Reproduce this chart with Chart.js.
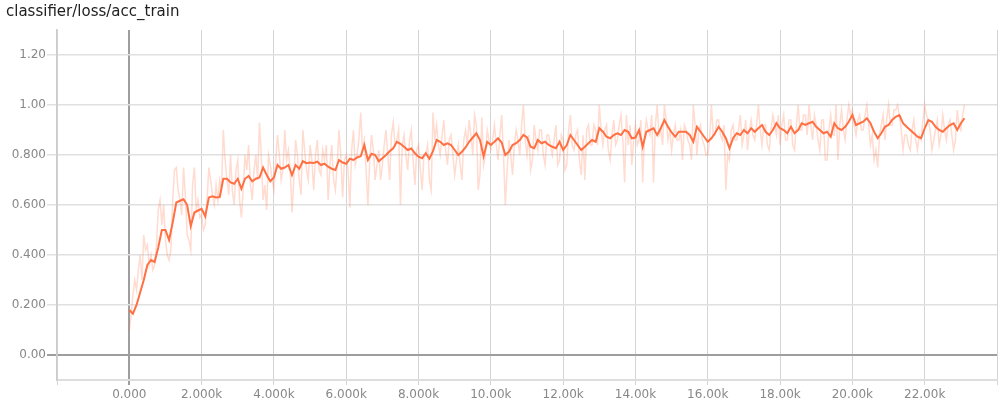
<!DOCTYPE html>
<html>
<head>
<meta charset="utf-8">
<script src="https://cdn.jsdelivr.net/npm/chart.js@4.4.0/dist/chart.umd.min.js"></script>
<style>
  body { margin: 0; background: #fff; }
  #wrap { position: relative; width: 1008px; height: 408px; }
  #title { position: absolute; left: 6px; top: 2px; font: 15px "DejaVu Sans", sans-serif; color: #212121; }
</style>
</head>
<body>
<div id="wrap">
  <div id="title">classifier/loss/acc_train</div>
  <canvas id="acc" width="1008" height="408"></canvas>
</div>
<script>
// tick positions + labels as tensorboard prints them
const xTicks = [-2000, 0, 2000, 4000, 6000, 8000, 10000, 12000, 14000, 16000, 18000, 20000, 22000, 24000];
const xTickLabels = ['', '0.000', '2.000k', '4.000k', '6.000k', '8.000k', '10.00k', '12.00k', '14.00k', '16.00k', '18.00k', '20.00k', '22.00k', ''];
const yTicks = [0, 0.2, 0.4, 0.6, 0.8, 1.0, 1.2];
const yTickLabels = ['0.00', '0.200', '0.400', '0.600', '0.800', '1.00', '1.20'];

// smoothed: one value every 100 steps, 0 .. 23100
const smoothed = [
  0.18, 0.165, 0.2, 0.25, 0.3, 0.36, 0.38, 0.372, 0.43, 0.5,
  0.5, 0.46, 0.53, 0.61, 0.617, 0.623, 0.6, 0.516, 0.57, 0.578,
  0.585, 0.555, 0.63, 0.635, 0.63, 0.632, 0.705, 0.705, 0.69, 0.685,
  0.705, 0.665, 0.705, 0.716, 0.695, 0.705, 0.71, 0.75, 0.72, 0.695,
  0.71, 0.76, 0.745, 0.75, 0.76, 0.72, 0.76, 0.745, 0.775, 0.767,
  0.77, 0.768, 0.773, 0.76, 0.765, 0.753, 0.745, 0.74, 0.78, 0.77,
  0.765, 0.785, 0.78, 0.79, 0.795, 0.84, 0.78, 0.805, 0.8, 0.775,
  0.787, 0.8, 0.815, 0.827, 0.853, 0.845, 0.833, 0.82, 0.826, 0.807,
  0.793, 0.787, 0.807, 0.785, 0.815, 0.86, 0.853, 0.84, 0.847, 0.84,
  0.82, 0.8, 0.813, 0.83, 0.853, 0.87, 0.887, 0.86, 0.795, 0.853,
  0.84, 0.853, 0.867, 0.85, 0.8, 0.813, 0.84, 0.847, 0.86, 0.88,
  0.87, 0.833, 0.827, 0.86, 0.847, 0.853, 0.84, 0.833, 0.827, 0.853,
  0.82, 0.84, 0.88, 0.86, 0.84, 0.82, 0.833, 0.847, 0.86, 0.853,
  0.907, 0.893, 0.873, 0.867, 0.88, 0.887, 0.88, 0.9, 0.893, 0.867,
  0.87, 0.9, 0.833, 0.893, 0.9, 0.907, 0.88, 0.907, 0.94, 0.913,
  0.89, 0.873, 0.893, 0.893, 0.893, 0.88, 0.853, 0.913, 0.893, 0.873,
  0.853, 0.867, 0.887, 0.913, 0.893, 0.867, 0.827, 0.867, 0.887, 0.88,
  0.9, 0.887, 0.907, 0.893, 0.907, 0.92, 0.893, 0.88, 0.9, 0.927,
  0.907, 0.9, 0.887, 0.913, 0.887, 0.9, 0.927, 0.92, 0.927, 0.933,
  0.913, 0.9, 0.887, 0.893, 0.873, 0.927, 0.907, 0.9, 0.913, 0.933,
  0.96, 0.92, 0.927, 0.933, 0.947, 0.927, 0.893, 0.867, 0.887, 0.913,
  0.92, 0.94, 0.953, 0.96, 0.927, 0.913, 0.9, 0.887, 0.873, 0.867,
  0.907, 0.94, 0.933, 0.913, 0.9, 0.893, 0.907, 0.92, 0.927, 0.9,
  0.927, 0.947
];

// raw: one value every 50 steps, 0 .. 23100
const raw = [
  0.10, 0.16, 0.24, 0.30, 0.26, 0.34, 0.40, 0.30, 0.48, 0.42, 0.44, 0.36, 0.40, 0.34, 0.36, 0.44, 0.58, 0.62, 0.52, 0.60,
  0.46, 0.40, 0.38, 0.42, 0.62, 0.74, 0.75, 0.66, 0.62, 0.56, 0.75, 0.64, 0.48, 0.46, 0.42, 0.68, 0.75, 0.58, 0.62, 0.55,
  0.56, 0.50, 0.52, 0.62, 0.75, 0.70, 0.64, 0.60, 0.68, 0.62, 0.70, 0.66, 0.90, 0.78, 0.70, 0.64, 0.80, 0.66, 0.60, 0.74,
  0.78, 0.62, 0.55, 0.66, 0.80, 0.74, 0.84, 0.68, 0.62, 0.74, 0.80, 0.70, 0.93, 0.80, 0.62, 0.68, 0.58, 0.80, 0.76, 0.70,
  0.66, 0.78, 0.88, 0.80, 0.70, 0.74, 0.90, 0.78, 0.82, 0.74, 0.57, 0.70, 0.86, 0.80, 0.70, 0.64, 0.90, 0.82, 0.74, 0.70,
  0.84, 0.78, 0.66, 0.80, 0.86, 0.74, 0.72, 0.82, 0.78, 0.84, 0.62, 0.76, 0.84, 0.70, 0.66, 0.76, 0.90, 0.80, 0.63, 0.78,
  0.80, 0.74, 0.59, 0.82, 0.90, 0.76, 0.80, 0.86, 0.97, 0.82, 0.86, 0.74, 0.60, 0.78, 0.88, 0.82, 0.70, 0.76, 0.82, 0.70,
  0.76, 0.84, 0.90, 0.80, 0.70, 0.88, 0.93, 0.84, 0.86, 0.90, 0.60, 0.84, 0.88, 0.80, 0.74, 0.86, 0.90, 0.78, 0.68, 0.82,
  0.84, 0.74, 0.66, 0.80, 0.80, 0.84, 0.70, 0.66, 0.97, 0.86, 0.92, 0.84, 0.80, 0.88, 0.94, 0.82, 0.76, 0.86, 0.88, 0.80,
  0.72, 0.78, 0.84, 0.76, 0.70, 0.86, 0.90, 0.84, 0.94, 0.88, 0.80, 0.96, 0.92, 0.66, 0.72, 0.95, 0.76, 0.80, 0.90, 0.86,
  0.82, 0.86, 0.92, 0.84, 0.78, 0.88, 0.96, 0.80, 0.60, 0.74, 0.86, 0.80, 0.72, 0.84, 0.90, 0.86, 0.80, 0.92, 1.00, 0.86,
  0.80, 0.88, 0.74, 0.78, 0.92, 0.86, 0.82, 0.90, 0.90, 0.80, 0.76, 0.88, 0.88, 0.84, 0.80, 0.86, 0.92, 0.76, 0.78, 0.88,
  0.86, 0.74, 0.76, 0.90, 0.96, 0.84, 0.82, 0.88, 0.90, 0.78, 0.72, 0.88, 0.70, 0.90, 0.92, 0.84, 0.84, 0.92, 0.90, 0.84,
  1.00, 0.90, 0.84, 0.90, 0.92, 0.82, 0.78, 0.88, 0.94, 0.84, 0.86, 0.92, 0.96, 0.86, 0.69, 0.96, 0.84, 0.92, 0.76, 0.86,
  0.92, 0.84, 0.86, 0.94, 0.69, 0.88, 0.94, 0.90, 0.88, 0.96, 0.69, 0.92, 1.00, 0.88, 0.90, 0.84, 1.00, 0.94, 0.86, 0.90,
  0.82, 0.88, 0.92, 0.86, 0.86, 0.90, 0.78, 0.92, 0.90, 0.86, 0.84, 0.78, 1.00, 0.92, 0.80, 0.90, 0.92, 0.86, 0.84, 0.80,
  0.80, 0.86, 1.00, 0.88, 0.88, 0.94, 0.94, 0.88, 0.86, 0.92, 0.66, 0.80, 0.78, 0.90, 0.92, 0.86, 0.86, 0.90, 0.96, 0.84,
  0.88, 0.94, 0.82, 0.90, 0.94, 0.88, 0.86, 0.92, 1.00, 0.90, 0.84, 0.92, 0.92, 0.84, 0.82, 0.90, 0.96, 0.92, 0.88, 0.96,
  0.84, 0.92, 0.96, 0.86, 0.86, 0.94, 0.94, 0.84, 0.82, 0.92, 1.00, 0.90, 0.90, 0.96, 0.96, 0.88, 1.00, 0.92, 0.86, 0.96,
  0.92, 0.86, 0.82, 0.94, 0.94, 0.78, 0.78, 0.90, 0.96, 0.88, 0.88, 1.00, 0.78, 0.92, 0.98, 0.90, 0.86, 0.94, 1.00, 0.96,
  0.98, 0.92, 0.88, 0.94, 0.96, 0.90, 0.90, 0.96, 1.00, 0.92, 0.84, 0.88, 0.78, 0.82, 0.75, 0.88, 0.92, 0.96, 0.86, 0.94,
  1.00, 0.92, 0.92, 0.98, 0.98, 1.00, 0.96, 0.90, 0.82, 0.88, 0.88, 0.84, 0.82, 0.90, 0.94, 0.86, 0.82, 0.88, 0.86, 0.94,
  1.00, 0.96, 0.94, 0.90, 0.82, 0.86, 0.90, 0.94, 0.84, 0.88, 0.96, 0.90, 0.86, 0.92, 0.94, 0.88, 0.82, 0.86, 0.98, 0.92,
  0.90, 0.96, 1.00
];

const steps = smoothed.map((v, i) => i * 100);
const rawSteps = raw.map((v, i) => i * 50);

var ctx = document.getElementById('acc').getContext('2d');
var chart = new Chart(ctx, {
  type: 'line',
  data: {
    datasets: [
      {
        label: 'raw',
        data: rawSteps.map((s, i) => ({ x: s, y: raw[i] })),
        borderColor: 'rgba(255, 112, 67, 0.25)',
        borderWidth: 1.5,
        pointRadius: 0,
        tension: 0
      },
      {
        label: 'smoothed',
        data: steps.map((s, i) => ({ x: s, y: smoothed[i] })),
        borderColor: '#ff7043',
        borderWidth: 2,
        pointRadius: 0,
        tension: 0
      }
    ]
  },
  options: {
    responsive: false,
    animation: false,
    layout: { padding: { top: 30, right: 11, left: 0, bottom: 0 } },
    plugins: { legend: { display: false }, tooltip: { enabled: false } },
    scales: {
      x: {
        type: 'linear',
        min: -2000,
        max: 24000,
        afterBuildTicks: s => { s.ticks = xTicks.map(v => ({ value: v })); },
        afterFit: s => { s.height = 28; },
        ticks: {
          autoSkip: false,
          maxRotation: 0,
          padding: 3,
          color: '#888',
          font: { family: 'DejaVu Sans', size: 12 },
          callback: (v, i) => xTickLabels[i]
        },
        grid: {
          tickLength: 5,
          color: c => c.tick && c.tick.value === 0 ? '#9e9e9e' : '#d4d4d4',
          lineWidth: c => c.tick && c.tick.value === 0 ? 2 : 1
        },
        border: { color: '#ddd', width: 2 }
      },
      y: {
        min: -0.1,
        max: 1.3,
        afterBuildTicks: s => { s.ticks = yTicks.map(v => ({ value: v })); },
        afterFit: s => { s.width = 57; },
        ticks: {
          padding: 1,
          color: '#888',
          font: { family: 'DejaVu Sans', size: 12 },
          callback: (v, i) => yTickLabels[i]
        },
        grid: {
          tickLength: 10,
          color: c => c.tick && c.tick.value === 0 ? '#9e9e9e' : '#e0e0e0',
          lineWidth: c => c.tick && c.tick.value === 0 ? 2 : 1.5
        },
        border: { color: '#ccc', width: 1.5 }
      }
    }
  }
});
</script>
</body>
</html>
